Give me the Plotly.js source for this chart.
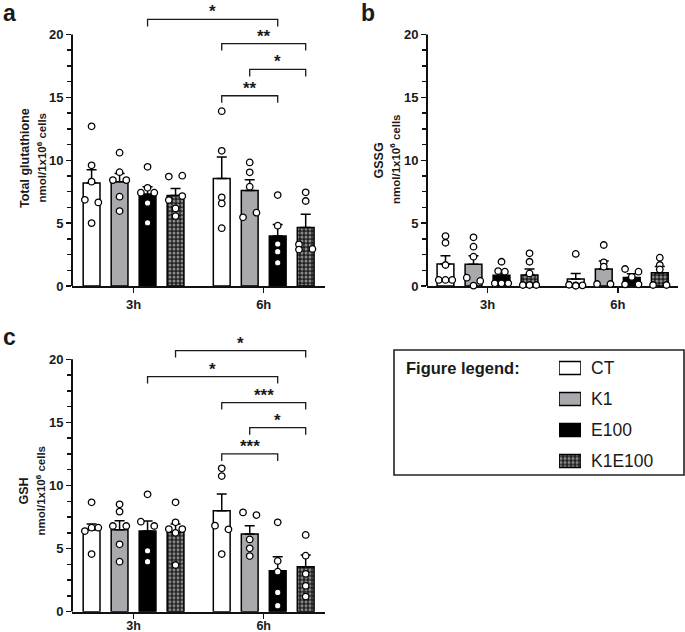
<!DOCTYPE html>
<html><head><meta charset="utf-8">
<script src="https://cdn.plot.ly/plotly-3.0.1.min.js"></script>
<style>html,body{margin:0;padding:0;background:#fff}#chart{width:685px;height:632px}</style>
</head><body><div id="chart"></div>
<script>
// ---------- data ----------
const groups = ['3h', '6h'];
const series = ['CT', 'K1', 'E100', 'K1E100'];

// Panel a: Total glutathione
const aMean3h = [8.2, 8.3, 7.3, 7.2];
const aMean6h = [8.55, 7.6, 3.97, 4.65];
const aSem3h = [1.05, 0.65, 0.6, 0.56];
const aSem6h = [1.7, 0.85, 0.93, 1.05];
const aPts3h = [[12.7, 9.6, 8.3, 6.85, 6.65, 5.0], [10.6, 9.05, 8.42, 8.42, 7.1, 5.96], [9.48, 7.81, 7.42, 7.42, 6.6, 5.03], [8.7, 8.77, 7.15, 6.84, 6.17, 5.56]];
const aPts6h = [[13.9, 10.75, 7.05, 6.57, 4.6], [9.83, 9.04, 7.9, 5.46, 5.83], [7.23, 4.8, 3.34, 2.73, 1.85], [7.45, 6.76, 3.31, 2.9, 2.95]];
const aBrFromGroup = [0, 1, 1, 1];
const aBrFromSeries = [2, 0, 1, 0];
const aBrToGroup = [1, 1, 1, 1];
const aBrToSeries = [2, 3, 3, 2];
const aBrLevel = [21.2, 19.28, 17.22, 15.13];
const aBrLabel = ['*', '**', '*', '**'];

// Panel b: GSSG
const bMean3h = [1.75, 1.72, 0.85, 0.88];
const bMean6h = [0.55, 1.35, 0.68, 1.05];
const bSem3h = [0.65, 0.68, 0.3, 0.47];
const bSem6h = [0.45, 0.64, 0.29, 0.5];
const bPts3h = [[3.97, 3.44, 1.67, 0.48, 0.48, 0.48], [3.87, 3.13, 2.33, 0.66, 0.4, 0.03], [1.93, 1.19, 1.14, 0.21, 0.21, 0.21], [2.6, 1.93, 1.0, 0.08, 0.08, 0.08]];
const bPts6h = [[2.55, 0.1, 0.05, 0.05, 0.02], [3.26, 1.88, 1.54, 0.16, 0.16], [1.35, 1.14, 0.72, 0.13, 0.13], [2.25, 1.67, 1.32, 0.08, 0.08]];

// Panel c: GSH
const cMean3h = [6.5, 6.5, 6.4, 6.3];
const cMean6h = [8.0, 6.16, 3.25, 3.57];
const cSem3h = [0.45, 0.71, 0.79, 0.65];
const cSem6h = [1.33, 0.66, 1.11, 0.92];
const cPts3h = [[8.67, 6.66, 6.66, 6.39, 4.57], [8.51, 7.93, 6.79, 6.79, 5.34, 3.96], [9.3, 7.13, 6.79, 4.83, 3.96], [8.67, 7.08, 6.55, 6.55, 6.25, 3.7]];
const cPts6h = [[11.36, 10.75, 6.82, 6.53, 4.57], [7.87, 7.66, 5.73, 5.02, 4.41], [7.08, 4.02, 3.17, 1.53, 0.48], [6.08, 4.44, 3.0, 2.05, 1.2]];
const cBrFromGroup = [0, 0, 1, 1, 1];
const cBrFromSeries = [3, 2, 0, 1, 0];
const cBrToGroup = [1, 1, 1, 1, 1];
const cBrToSeries = [3, 2, 3, 3, 2];
const cBrLevel = [20.69, 18.63, 16.57, 14.58, 12.5];
const cBrLabel = ['*', '*', '***', '*', '***'];

const yTicks = [0, 5, 10, 15, 20];

// ---------- point jitter (horizontal placement, in marker widths) ----------
const aJit3h = [[0, 0, 0, -1, 1, 0], [0, 0, -1, 1, 0, 0], [0, 0, -1, 1, 0, 0], [-1, 1, 1, -1, 0, 0]];
const aJit6h = [[0, 0, 0, 0, 0], [0, 0, 0, -1, 1], [0, 0, 0, 0, 0], [0, 0, -1, -1, 1]];
const bJit3h = [[0, 0, 0, -1, 0, 1], [0, 0, 0, -1, 1, 0], [0, -0.5, 0.5, -1, 0, 1], [0, 0, 0, -1, 0, 1]];
const bJit6h = [[0, -1, 0, 1, 0], [0, 0, 0, -1, 1], [-1, 1, 0, -1, 1], [0, 0, 0, -1, 1]];
const cJit3h = [[0, 0, 1, -1, 0], [0, 0, -1, 1, 0, 0], [0, -1, 1, 0, 0], [0, 0, -1, 1, 0, 0]];
const cJit6h = [[0, 0, -1, 1, 0], [-1, 1, 0, 0, 0], [0, 0, 0, 0, 0], [0, 0, 0, 0, 0]];

// ---------- styling / geometry ----------
const FONT = 'Liberation Sans, Arial, Helvetica, sans-serif';
const INK = '#1a1a1a';
const groupX = [0, 4.65];
const serOff = [-1.5, -0.5, 0.5, 1.5];
const JIT = 0.24;
const BARW = 0.6;
const fills = [
  {color: '#ffffff'},
  {color: '#a9a9ad'},
  {color: '#000000'},
  {color: '#1e1e1e', pattern: {shape: '.', bgcolor: '#202020', fgcolor: '#8c8c8c', size: 4, solidity: 0.45}}
];
function barMarker(i) {
  const m = {color: fills[i].color, line: {color: '#000', width: 1.5}};
  if (fills[i].pattern) m.pattern = fills[i].pattern;
  return m;
}

const panels = [
  {xa: 'x', ya: 'y', mean: [aMean3h, aMean6h], sem: [aSem3h, aSem6h], pts: [aPts3h, aPts6h], jit: [aJit3h, aJit6h],
   br: [aBrFromGroup, aBrFromSeries, aBrToGroup, aBrToSeries, aBrLevel, aBrLabel], pxPerUnit: 12.575},
  {xa: 'x2', ya: 'y2', mean: [bMean3h, bMean6h], sem: [bSem3h, bSem6h], pts: [bPts3h, bPts6h], jit: [bJit3h, bJit6h],
   br: null, pxPerUnit: 12.575},
  {xa: 'x3', ya: 'y3', mean: [cMean3h, cMean6h], sem: [cSem3h, cSem6h], pts: [cPts3h, cPts6h], jit: [cJit3h, cJit6h],
   br: [cBrFromGroup, cBrFromSeries, cBrToGroup, cBrToSeries, cBrLevel, cBrLabel], pxPerUnit: 12.62}
];

const data = [];
const annotations = [];
const shapes = [];

panels.forEach(p => {
  // bars with SEM
  series.forEach((s, i) => {
    data.push({
      type: 'bar', xaxis: p.xa, yaxis: p.ya, name: s,
      x: groupX.map(g => g + serOff[i]),
      y: [p.mean[0][i], p.mean[1][i]],
      width: BARW,
      marker: barMarker(i),
      error_y: {type: 'data', symmetric: false, array: [p.sem[0][i], p.sem[1][i]], arrayminus: [0, 0],
                color: '#000', thickness: 1.5, width: 5},
      hoverinfo: 'skip'
    });
  });
  // individual points
  series.forEach((s, i) => {
    const xs = [], ys = [];
    groups.forEach((g, gi) => {
      p.pts[gi][i].forEach((v, k) => {
        xs.push(groupX[gi] + serOff[i] + p.jit[gi][i][k] * JIT);
        ys.push(v);
      });
    });
    data.push({
      type: 'scatter', mode: 'markers', xaxis: p.xa, yaxis: p.ya, x: xs, y: ys, cliponaxis: false,
      marker: {symbol: 'circle', size: 6.5, color: '#ffffff', line: {color: '#000', width: 1.3}},
      hoverinfo: 'skip'
    });
  });
  // significance brackets
  if (p.br) {
    const [fg, fs, tg, ts, lvl, lab] = p.br;
    const drop = 7 / p.pxPerUnit;
    lvl.forEach((L, b) => {
      const x1 = groupX[fg[b]] + serOff[fs[b]];
      const x2 = groupX[tg[b]] + serOff[ts[b]];
      data.push({
        type: 'scatter', mode: 'lines', xaxis: p.xa, yaxis: p.ya,
        x: [x1, x1, x2, x2], y: [L - drop, L, L, L - drop],
        line: {color: INK, width: 1.3}, hoverinfo: 'skip'
      });
      annotations.push({
        xref: p.xa, yref: p.ya, x: (x1 + x2) / 2, y: L, text: '<b>' + lab[b] + '</b>',
        showarrow: false, xanchor: 'center', yanchor: 'bottom', yshift: -4,
        font: {family: FONT, size: 17, color: INK}
      });
    });
  }
  // y axis line from 0 to 20
  shapes.push({type: 'line', xref: p.xa + ' domain', yref: p.ya, x0: 0, x1: 0, y0: 0, y1: 20,
               line: {color: '#111', width: 2}});
});

// legend swatches (own small subplot)
series.forEach((s, i) => {
  data.push({
    type: 'bar', orientation: 'h', xaxis: 'x4', yaxis: 'y4', y: [s], x: [1], base: 0, width: 0.42,
    marker: barMarker(i), hoverinfo: 'skip'
  });
});

// ---------- axes ----------
const minorVals = [];
for (let t = 0; t < 20; t += 5) { [1.25, 2.5, 3.75].forEach(d => minorVals.push(t + d)); }

function xAxis(domain, range, anchor, standoff, fs) {
  return {
    domain: domain, range: range, anchor: anchor, showgrid: false, zeroline: false,
    showline: true, linecolor: '#111', linewidth: 2, layer: 'below traces',
    ticks: 'outside', ticklen: 5, tickwidth: 1.5, tickcolor: '#111',
    tickmode: 'array', tickvals: groupX, ticktext: groups, ticklabelstandoff: standoff,
    tickfont: {family: FONT, size: fs, color: INK, weight: 'bold'}
  };
}
function yAxis(domain, anchor) {
  return {
    domain: domain, range: [0, 22.5], anchor: anchor, showgrid: false, zeroline: false, showline: false,
    ticks: 'outside', ticklen: 5, tickwidth: 1.5, tickcolor: '#111',
    tickmode: 'array', tickvals: yTicks,
    tickfont: {family: FONT, size: 13, color: INK, weight: 'bold'},
    minor: {tickmode: 'array', tickvals: minorVals, ticks: 'outside', ticklen: 4, tickwidth: 1.5, tickcolor: '#111', showgrid: false}
  };
}

const W = 685, H = 632;
const px = v => v / W;
const py = v => (H - v) / H;

// panel labels
[['a', 1, 13], ['b', 359, 13], ['c', 1, 336.5]].forEach(([t, x, y]) => {
  annotations.push({xref: 'paper', yref: 'paper', x: px(x), y: py(y), xanchor: 'left', yanchor: 'middle',
    text: '<b>' + t + '</b>', showarrow: false, font: {family: FONT, size: 23, color: INK}});
});

// y axis titles (two lines each)
[['Total glutathione', 25, 158], ['GSSG', 378.5, 161], ['GSH', 23.5, 491]].forEach(([t, x, y]) => {
  annotations.push({xref: 'paper', yref: 'paper', x: px(x), y: py(y), xanchor: 'center', yanchor: 'middle',
    textangle: -90, text: '<b>' + t + '</b>', showarrow: false, font: {family: FONT, size: 12.5, color: INK}});
});
[[41.5, 158], [395, 159], [40.5, 491]].forEach(([x, y]) => {
  annotations.push({xref: 'paper', yref: 'paper', x: px(x), y: py(y), xanchor: 'center', yanchor: 'middle',
    textangle: -90, text: '<b>nmol/1x10<sup>6</sup> cells</b>', showarrow: false, font: {family: FONT, size: 11.5, color: INK}});
});

// legend box + title
shapes.push({type: 'rect', xref: 'paper', yref: 'paper', x0: px(394), x1: px(684), y0: py(475), y1: py(350),
  line: {color: '#222', width: 1.6}, fillcolor: 'rgba(0,0,0,0)'});
annotations.push({xref: 'paper', yref: 'paper', x: px(404), y: py(368), xanchor: 'left', yanchor: 'middle',
  text: '<b>Figure legend:</b>', showarrow: false, font: {family: FONT, size: 16.5, color: INK}});

const layout = {
  width: W, height: H, margin: {l: 0, r: 0, t: 0, b: 0},
  paper_bgcolor: '#ffffff', plot_bgcolor: 'rgba(0,0,0,0)',
  showlegend: false, barmode: 'overlay',
  font: {family: FONT, color: INK},
  xaxis: xAxis([px(72), px(325)], [-2.2, 6.84], 'y', 0, 13),
  yaxis: yAxis([py(286), py(3.06)], 'x'),
  xaxis2: xAxis([px(427), px(678)], [-2.16, 6.8], 'y2', 0, 13),
  yaxis2: yAxis([py(286), py(3.06)], 'x2'),
  xaxis3: xAxis([px(72), px(325)], [-2.2, 6.84], 'y3', -4, 12.5),
  yaxis3: yAxis([py(611.7), py(327.75)], 'x3'),
  xaxis4: {domain: [px(559), px(581)], range: [0, 1], anchor: 'y4', visible: false, fixedrange: true},
  yaxis4: {domain: [py(476.5), py(352.5)], anchor: 'x4', type: 'category', categoryorder: 'array', categoryarray: series,
           range: [3.5, -0.5], side: 'right', showgrid: false, zeroline: false, showline: false, ticks: '',
           ticklabelstandoff: 9, tickfont: {family: FONT, size: 17.5, color: INK}},
  annotations: annotations,
  shapes: shapes
};

Plotly.newPlot('chart', data, layout, {staticPlot: true, displayModeBar: false});
</script>
</body></html>
